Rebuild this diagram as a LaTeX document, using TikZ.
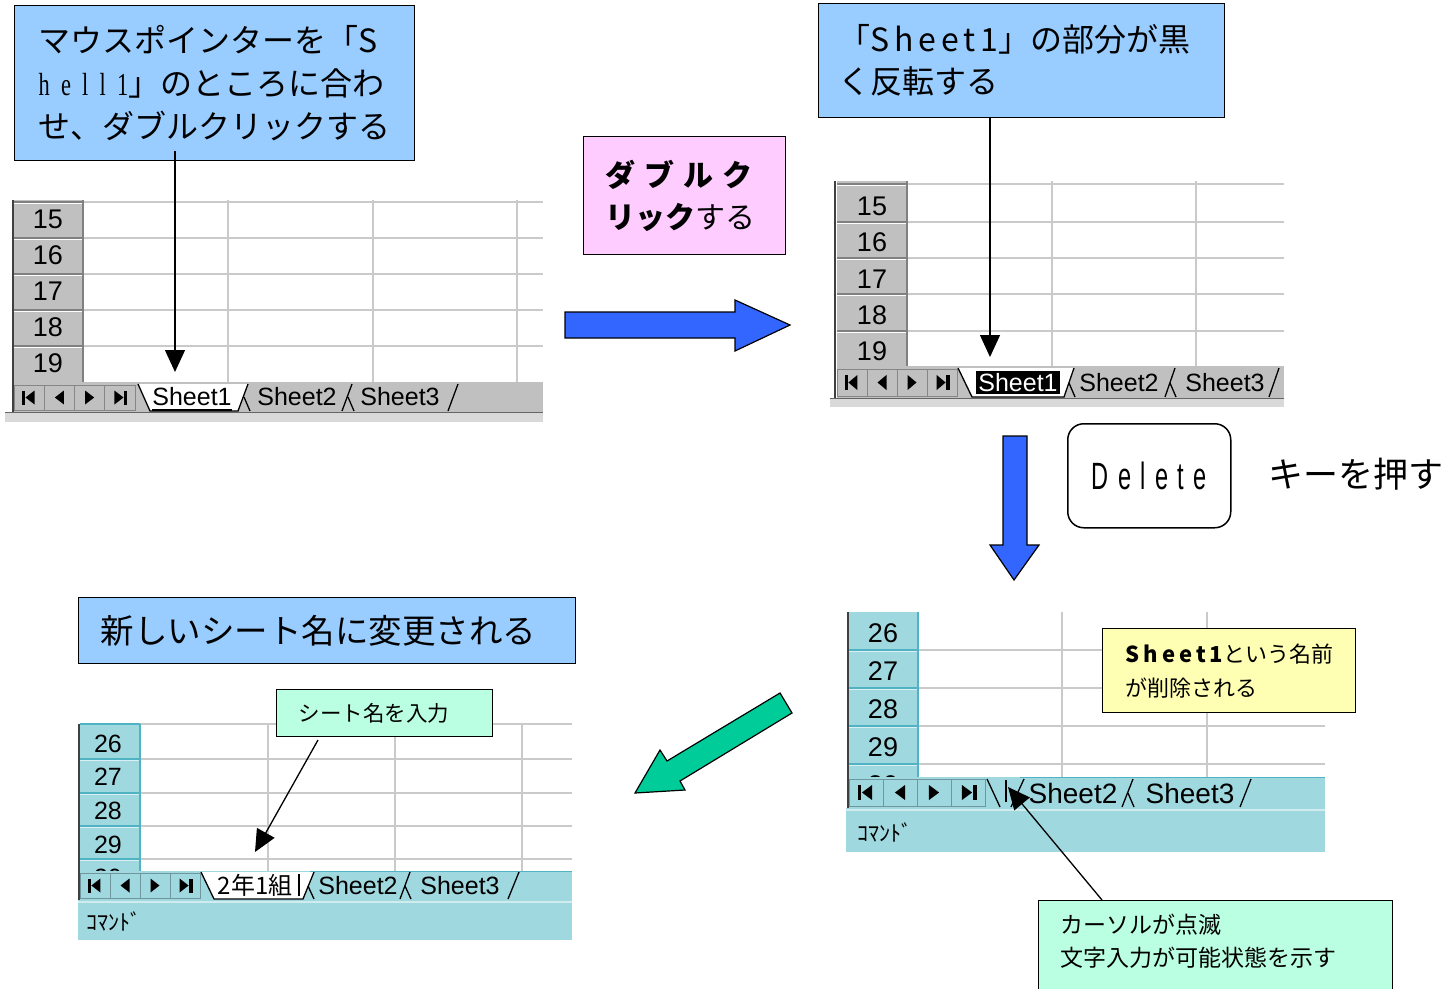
\documentclass[tikz,border=0pt]{standalone}
\usepackage{fontspec}
\usepackage{graphicx}
\setmainfont{Noto Sans CJK JP}
\newfontfamily\lsans{Liberation Sans}
\newfontfamily\lserif{Liberation Serif}
\usetikzlibrary{arrows.meta}
\definecolor{boxblue}{HTML}{99CCFF}
\definecolor{boxpink}{HTML}{FFCCFF}
\definecolor{arrblue}{HTML}{3366FF}
\definecolor{arrgreen}{HTML}{00CC99}
\definecolor{boxgreen}{HTML}{BBFFE2}
\definecolor{boxyellow}{HTML}{FFFFB3}
\definecolor{hdrgray}{HTML}{C0C0C0}
\definecolor{sheetteal}{HTML}{A0D8E0}
\definecolor{tealdark}{HTML}{4FB3C3}
\definecolor{gridc}{HTML}{CACACA}
\newcommand\fsz[1]{\fontsize{#1}{#1}\selectfont}
\newcommand\navbar[5]{%
  \foreach \i in {0,1,2,3}{\draw[#5!70!black, fill=#5, line width=1pt] ({#1+\i*#4},#2) rectangle ({#1+(\i+1)*#4},#3);}
  \pgfmathsetmacro\navym{(#2+#3)/2}
  \pgfmathsetmacro\navh{(#3-#2)*0.28}
  \fill ({#1+0.25*#4},{\navym-\navh}) rectangle ({#1+0.36*#4},{\navym+\navh});
  \fill ({#1+0.38*#4},\navym) -- ({#1+0.68*#4},{\navym-\navh}) -- ({#1+0.68*#4},{\navym+\navh}) -- cycle;
  \fill ({#1+1.35*#4},\navym) -- ({#1+1.65*#4},{\navym-\navh}) -- ({#1+1.65*#4},{\navym+\navh}) -- cycle;
  \fill ({#1+2.65*#4},\navym) -- ({#1+2.35*#4},{\navym-\navh}) -- ({#1+2.35*#4},{\navym+\navh}) -- cycle;
  \fill ({#1+3.62*#4},\navym) -- ({#1+3.32*#4},{\navym-\navh}) -- ({#1+3.32*#4},{\navym+\navh}) -- cycle;
  \fill ({#1+3.64*#4},{\navym-\navh}) rectangle ({#1+3.75*#4},{\navym+\navh});
}
\begin{document}
\begin{tikzpicture}[x=1pt,y=-1pt,
  callout/.style={draw=black, line width=1.3pt, anchor=north west, inner ysep=0pt, align=left},
  blkarrow/.style={line width=1.3pt, -{Triangle[width=20pt,length=22pt]}},
  bigarrow/.style={draw=black, line width=1.2pt, line join=miter},
  gridline/.style={draw=gridc, line width=1.6pt},
  tabedge/.style={line width=1.3pt, draw=black},
  rownum/.style={font=\lsans\fsz{27}, inner sep=0pt},
  tabtxt/.style={font=\lsans\fsz{25}, inner sep=0pt},
  cmdtxt/.style={font=\fsz{22}, inner sep=0pt, anchor=west}]
\useasboundingbox (0,0) rectangle (1450,988);
\clip (0,0) rectangle (1450,988);
\fill[white] (0,0) rectangle (1450,988);

% ================= Sheet 1 (top left, gray) =================
\fill[white] (5,200) rectangle (543,412);
\foreach \y in {202,238,274,310,346} \draw[gridline] (83,\y) -- (543,\y);
\foreach \x in {228,373,517} \draw[gridline] (\x,200) -- (\x,382);
\fill[hdrgray] (14,200) rectangle (83,382);
\foreach \y in {202,238,274,310,346} {\draw[gray, line width=1.5pt] (14,\y) -- (83,\y); \draw[white, line width=1.2pt] (14,\y+1.6) -- (82,\y+1.6);}
\draw[gray, line width=1.5pt] (83,200) -- (83,382);
\foreach \n [count=\i] in {15,16,17,18,19} \node[rownum] (sa\n) at (48,{183+\i*36}) {\n};
\fill[hdrgray] (14,382) rectangle (543,412);
\fill[gray!30] (5,412) rectangle (543,422);
\draw[gray!80!black, line width=1.5pt] (5,412.5) -- (543,412.5);
\draw[black!75, line width=2.2pt] (13,200) -- (13,412);
\navbar{14}{385}{410}{30.25}{hdrgray}
\filldraw[tabedge, fill=white] (138,384) -- (150,411) -- (238,411) -- (248,384);
\node[tabtxt] (sat1) at (192,397) {Sheet1};
\draw[line width=2.2pt] ([yshift=-4pt]sat1.south west) -- ([yshift=-4pt]sat1.south east);
\draw[tabedge] (244,397) -- (250,411);
\node[tabtxt] (sat2) at (297,397) {Sheet2};
\draw[tabedge] (342,411) -- (352,384); \draw[tabedge] (348,397) -- (354,411);
\node[tabtxt] (sat3) at (400,397) {Sheet3};
\draw[tabedge] (448,411) -- (458,384);

% ================= Sheet 2 (top right, gray) =================
\fill[white] (830,181) rectangle (1284,398);
\foreach \y in {184,222,258,294,331} \draw[gridline] (907,\y) -- (1284,\y);
\foreach \x in {1052,1196} \draw[gridline] (\x,181) -- (\x,366);
\fill[hdrgray] (837,181) rectangle (907,366);
\foreach \y in {184,222,258,294,331} {\draw[gray, line width=1.5pt] (837,\y) -- (907,\y); \draw[white, line width=1.2pt] (837,\y+1.6) -- (906,\y+1.6);}
\draw[gray, line width=1.5pt] (907,181) -- (907,366);
\foreach \n/\y in {15/206,16/242,17/279,18/315,19/351} \node[rownum] (sb\n) at (872,\y) {\n};
\fill[hdrgray] (837,366) rectangle (1284,398);
\fill[gray!30] (830,398) rectangle (1284,407);
\draw[gray!80!black, line width=1.5pt] (830,398.5) -- (1284,398.5);
\draw[black!75, line width=2.2pt] (835,181) -- (835,398);
\navbar{837}{369}{396}{30}{hdrgray}
\filldraw[tabedge, fill=white] (958,368) -- (972,397) -- (1064,397) -- (1074,368);
\fill[black] (976,371) rectangle (1060,394);
\node[tabtxt, text=white] (sbt1) at (1018,383) {Sheet1};
\draw[tabedge] (1069,383) -- (1075,397);
\node[tabtxt] (sbt2) at (1119,383) {Sheet2};
\draw[tabedge] (1165,397) -- (1175,368); \draw[tabedge] (1170,383) -- (1176,397);
\node[tabtxt] (sbt3) at (1225,383) {Sheet3};
\draw[tabedge] (1269,397) -- (1279,368);

% ================= Sheet 3 (bottom right, teal) =================
\fill[white] (846,612) rectangle (1325,777);
\foreach \y in {650,688,726,764} \draw[gridline] (918,\y) -- (1325,\y);
\foreach \x in {1062,1207} \draw[gridline] (\x,612) -- (\x,777);
\fill[sheetteal] (849,612) rectangle (918,777);
\foreach \y in {650,688,726,764} {\draw[tealdark, line width=1.3pt] (849,\y) -- (918,\y); \draw[white!60!sheetteal, line width=1.2pt] (849,\y+1.6) -- (917,\y+1.6);}
\draw[tealdark, line width=1.5pt] (918,612) -- (918,777);
\foreach \n/\y in {26/633,27/671,28/709,29/747} \node[rownum] (sc\n) at (883,\y) {\n};
\begin{scope}
\clip (849,766) rectangle (917,776);
\node[rownum] (sc30) at (883,785) {30};
\end{scope}
\fill[sheetteal] (849,777) rectangle (1325,808);
\draw[tealdark, line width=1.5pt] (1020,777.5) -- (1325,777.5);
\fill[sheetteal] (846,808) rectangle (1325,852);
\draw[white!50!sheetteal, line width=1.5pt] (846,810) -- (1325,810);
\draw[black!75, line width=2.2pt] (848,612) -- (848,808);
\navbar{849}{779}{806}{34}{sheetteal}
\draw[tabedge] (987,779) -- (1000,807);
\draw[line width=1.6pt] (1006,780) -- (1006,802);
\draw[tabedge] (1011,807) -- (1024,779);
\node[tabtxt, font=\lsans\fsz{28}] (sct2) at (1073,793) {Sheet2};
\draw[tabedge] (1122,807) -- (1133,779); \draw[tabedge] (1128,793) -- (1134,807);
\node[tabtxt, font=\lsans\fsz{28}] (sct3) at (1190,793) {Sheet3};
\draw[tabedge] (1240,807) -- (1251,779);
\node[cmdtxt] (sccmd) at (857,832) {ｺﾏﾝﾄﾞ};

% ================= Sheet 4 (bottom left, teal) =================
\fill[white] (78,724) rectangle (572,871);
\foreach \y in {724,759,793,826,859} \draw[gridline] (140,\y) -- (572,\y);
\foreach \x in {268,395,522} \draw[gridline] (\x,724) -- (\x,871);
\fill[sheetteal] (80,724) rectangle (140,871);
\foreach \y in {759,793,826,859} {\draw[tealdark, line width=1.3pt] (80,\y) -- (140,\y); \draw[white!60!sheetteal, line width=1.2pt] (80,\y+1.6) -- (139,\y+1.6);}
\draw[tealdark, line width=1.5pt] (140,724) -- (140,871);
\draw[tealdark, line width=1.3pt] (80,724) -- (140,724);
\foreach \n/\y in {26/744,27/777,28/811,29/845} \node[rownum, font=\lsans\fsz{25}] (sd\n) at (108,\y) {\n};
\begin{scope}
\clip (80,861) rectangle (139,870);
\node[rownum, font=\lsans\fsz{25}] (sd30) at (108,878) {30};
\end{scope}
\fill[sheetteal] (80,871) rectangle (572,900);
\draw[tealdark, line width=1.5pt] (310,871.5) -- (572,871.5);
\fill[sheetteal] (78,900) rectangle (572,940);
\draw[white!50!sheetteal, line width=1.5pt] (78,902) -- (572,902);
\draw[black!75, line width=2.2pt] (79,724) -- (79,900);
\navbar{80}{873}{898}{30}{sheetteal}
\filldraw[tabedge, fill=white] (201,872) -- (214,899) -- (303,899) -- (314,872);
\node[inner sep=0pt, font=\fsz{24}] (sdt1) at (255,885) {2年1組};
\draw[line width=1.6pt] (299,874) -- (299,896);
\draw[tabedge] (308,886) -- (314,899);
\node[tabtxt] (sdt2) at (358,886) {Sheet2};
\draw[tabedge] (400,899) -- (410,872); \draw[tabedge] (405,886) -- (411,899);
\node[tabtxt] (sdt3) at (460,886) {Sheet3};
\draw[tabedge] (508,899) -- (519,872);
\node[cmdtxt] (sdcmd) at (86,921) {ｺﾏﾝﾄﾞ};

% ================= Callout boxes =================
\node[callout, fill=boxblue, minimum height=155pt, text width=352pt, inner xsep=24pt,
      font=\fontsize{32}{43}\selectfont] (b1) at (14,5)
  {マウスポインターを「S\\\scalebox{0.7}[1]{\lserif\addfontfeatures{LetterSpace=50}hell1}」のところに合わ\\せ、ダブルクリックする};
\node[callout, fill=boxblue, minimum height=114pt, text width=366pt, inner xsep=20pt,
      font=\fontsize{32}{42}\selectfont] (b2) at (818,3)
  {「{\addfontfeatures{LetterSpace=15}Sheet1}」の部分が黒\\く反転する};
\node[callout, fill=boxpink, minimum height=118pt, text width=158pt, inner xsep=22pt,
      font=\fontsize{30}{42}\selectfont] (pk) at (583,136)
  {{\bfseries\addfontfeatures{LetterSpace=30}ダブルク}\\{\bfseries リック}する};
\node[draw, line width=1.5pt, rounded corners=16pt, minimum width=163pt, minimum height=104pt,
      anchor=north west, inner sep=0pt] (del) at (1067,423)
  {\scalebox{0.62}[1]{\lsans\fsz{38}\addfontfeatures{LetterSpace=40}Delete}};
\node[anchor=west, inner sep=0pt, font=\fsz{35}] (key) at (1268,474) {キーを押す};
\node[callout, fill=boxblue, minimum height=66pt, text width=453pt, inner xsep=22pt,
      font=\fsz{33.5}] (b3) at (78,597) {新しいシート名に変更される};
\node[callout, fill=boxyellow, minimum height=84pt, text width=207pt, inner xsep=23pt,
      font=\fontsize{22}{34}\selectfont] (yl) at (1102,628)
  {{\bfseries\addfontfeatures{LetterSpace=18}Sheet1}という名前\\が削除される};
\node[callout, fill=boxgreen, minimum height=47pt, text width=172pt, inner xsep=22pt,
      font=\fsz{21.5}] (g1) at (276,689) {シート名を入力};
\node[callout, fill=boxgreen, minimum width=354pt, minimum height=110pt] (g2) at (1038,900) {};
\node[anchor=west, align=left, inner sep=0pt, font=\fontsize{23}{33}\selectfont] (g2t) at (1060,941)
  {カーソルが点滅\\文字入力が可能状態を示す};

% ================= Big block arrows =================
\filldraw[bigarrow, fill=arrblue] (565,312) -- (735,312) -- (735,300) -- (790,325) -- (735,351) -- (735,338) -- (565,338) -- cycle;
\filldraw[bigarrow, fill=arrblue] (1003,436) -- (1027,436) -- (1027,545) -- (1039,545) -- (1014,580) -- (990,545) -- (1003,545) -- cycle;
\filldraw[bigarrow, fill=arrgreen] (635,793) -- (660,750) -- (667,761) -- (780,693) -- (792,713) -- (680,781) -- (685,790) -- cycle;

% ================= Pointer arrows =================
\coordinate (a1e) at (175,372);
\coordinate (a2e) at (990,357);
\coordinate (a3s) at (318,740);
\coordinate (a3e) at (255,852);
\coordinate (a4s) at (1102,900);
\coordinate (a4e) at (1008,787);
\draw[blkarrow] ([yshift=10pt]a1e |- b1.south) -- (a1e);
\draw[blkarrow] (a2e |- b2.south) -- (a2e);
\draw[blkarrow] (a3s) -- (a3e);
\draw[blkarrow] (a4s) -- (a4e);
\end{tikzpicture}
\end{document}
